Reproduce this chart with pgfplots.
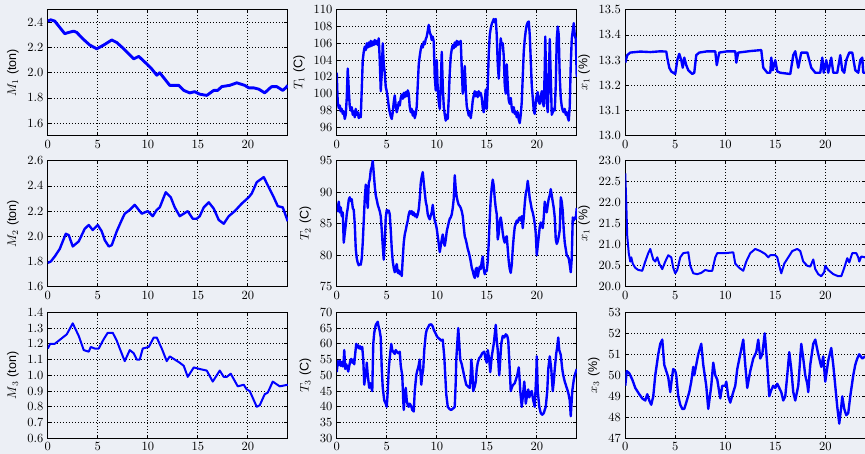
\documentclass[border=0pt]{standalone}
\usepackage{fontspec}
\usepackage{pgfplots}
\pgfplotsset{compat=1.18}
\newfontfamily\lab{Liberation Sans}
\definecolor{bgc}{RGB}{236,239,245}
\pgfplotsset{panel/.style={
  scale only axis, width=192pt, height=100.8pt, anchor=south west,
  xmin=0, xmax=24, xtick={0,5,10,15,20},
  grid=major, major grid style={black, dotted, line width=0.6pt},
  axis line style={black, line width=0.7pt},
  tick align=inside, major tick length=3pt, tick style={black, line width=0.6pt},
  every axis plot/.append style={blue, line width=1.6pt, no markers, line join=round},
  y tick label style={/pgf/number format/.cd, fixed, fixed zerofill, precision=1},
  clip=true,
}}
\begin{document}
\begin{tikzpicture}
\useasboundingbox (0,0) rectangle (692pt,363.2pt);
\clip (0,0) rectangle (692pt,363.2pt);
\fill[bgc] (0,0) rectangle (692pt,363.2pt);

% ---------------- Row 1 ----------------
\begin{axis}[panel, at={(38.2pt,254.6pt)}, ymin=1.5, ymax=2.5, ytick={1.6,1.8,...,2.41},
  ylabel={$M_1$ {\lab (ton)}}]
\addplot[line width=2.3pt] coordinates {
(0,2.41)(0.3,2.42)(0.7,2.41)(1.2,2.36)(1.7,2.31)(2.1,2.32)(2.6,2.33)(2.9,2.32)(3.5,2.27)(4.2,2.22)(4.9,2.19)(5.6,2.22)(6.0,2.24)(6.4,2.26)(6.9,2.24)(7.6,2.19)(8.1,2.15)(8.6,2.11)(9.1,2.13)(9.9,2.07)(10.4,2.03)(10.9,1.98)(11.2,2.00)(11.7,1.95)(12.2,1.90)(12.7,1.90)(13.1,1.90)(13.6,1.86)(14.2,1.84)(14.7,1.85)(15.2,1.83)(15.9,1.82)(16.6,1.86)(17.0,1.86)(17.4,1.89)(18.2,1.90)(18.9,1.92)(19.3,1.91)(19.7,1.90)(20.1,1.88)(20.6,1.88)(21.1,1.87)(21.7,1.84)(22.1,1.87)(22.4,1.89)(22.9,1.89)(23.5,1.86)(23.8,1.88)(24,1.90)};
\end{axis}

\begin{axis}[panel, at={(269.4pt,254.6pt)}, ymin=95, ymax=110, ytick={96,98,...,110},
  y tick label style={/pgf/number format/.cd, precision=0},
  ylabel={$T_1$ {\lab (C)}}]
\addplot[line width=1.9pt] coordinates {
(0,102.5)(0.05,100.5)(0.1,99)(0.2,98.3)(0.3,98.6)(0.4,97.9)(0.5,98.2)(0.6,97.6)(0.7,97.9)(0.8,97.0)(0.9,97.5)(1.0,99.5)(1.1,103.0)(1.2,100.5)(1.3,98.5)(1.4,98.0)(1.5,98.4)(1.6,97.5)(1.7,97.9)(1.8,97.2)(1.9,98.2)(2.0,97.5)(2.1,97.8)(2.2,97.1)(2.3,97.4)(2.4,97.2)(2.5,100.5)(2.6,104.0)(2.7,105.0)(2.8,105.6)(2.9,105.2)(3.0,106.0)(3.1,105.5)(3.2,106.1)(3.3,105.6)(3.4,106.3)(3.5,105.7)(3.6,106.2)(3.7,105.8)(3.8,106.4)(3.9,105.9)(4.0,106.3)(4.1,105.8)(4.2,106.6)(4.3,104.0)(4.4,100.3)(4.5,102.5)(4.6,106.0)(4.7,103.5)(4.8,102.5)(4.9,100.8)(5.0,100.3)(5.1,99.5)(5.2,98.5)(5.3,97.8)(5.4,97.3)(5.5,97.0)(5.6,97.8)(5.7,99.0)(5.8,99.8)(5.9,98.5)(6.0,97.8)(6.1,98.3)(6.2,99.0)(6.3,98.6)(6.4,99.5)(6.5,99.9)(6.6,99.4)(6.7,100.1)(6.8,99.6)(6.9,100.2)(7.0,99.7)(7.1,100.4)(7.2,100.0)(7.3,98.4)(7.4,97.8)(7.5,98.2)(7.6,97.4)(7.7,97.9)(7.8,97.1)(7.9,97.6)(8.0,98.5)(8.1,101.0)(8.2,103.5)(8.3,104.5)(8.4,105.3)(8.5,105.8)(8.6,105.5)(8.7,106.2)(8.8,105.9)(8.9,106.5)(9.0,106.8)(9.1,107.5)(9.2,108.2)(9.3,107.3)(9.4,107.0)(9.5,106.4)(9.6,106.8)(9.7,106.2)(9.8,102.0)(9.9,100.4)(10.0,104.0)(10.1,100.5)(10.2,99.0)(10.3,98.2)(10.4,101.0)(10.5,105.0)(10.6,101.0)(10.7,98.5)(10.8,97.5)(10.9,96.8)(11.0,97.5)(11.1,97.0)(11.2,99.5)(11.3,102.5)(11.4,104.5)(11.5,105.3)(11.6,105.8)(11.7,105.4)(11.8,106.1)(11.9,105.6)(12.0,106.3)(12.1,105.8)(12.2,106.2)(12.3,105.9)(12.4,106.3)(12.5,103.0)(12.6,100.0)(12.7,101.0)(12.8,103.3)(12.9,100.5)(13.0,98.5)(13.1,98.0)(13.2,97.4)(13.3,97.8)(13.4,97.1)(13.5,98.0)(13.6,99.2)(13.7,99.8)(13.8,100.3)(13.9,99.7)(14.0,100.2)(14.1,99.6)(14.2,100.3)(14.3,99.8)(14.4,100.1)(14.5,99.5)(14.6,98.3)(14.7,97.8)(14.8,99.0)(14.9,100.5)(15.0,98.2)(15.1,101.0)(15.2,104.8)(15.3,107.0)(15.4,107.8)(15.5,108.3)(15.6,108.6)(15.7,108.9)(15.8,108.5)(15.9,108.9)(16.0,107.0)(16.1,103.5)(16.2,101.8)(16.3,104.5)(16.4,106.6)(16.5,105.8)(16.6,106.0)(16.7,104.5)(16.8,101.0)(16.9,100.0)(17.0,103.5)(17.1,101.0)(17.2,99.2)(17.3,98.8)(17.4,99.5)(17.5,98.3)(17.6,97.8)(17.7,98.4)(17.8,97.6)(17.9,97.9)(18.0,97.2)(18.1,97.8)(18.2,96.9)(18.3,96.5)(18.4,97.5)(18.5,99.0)(18.6,102.0)(18.7,105.0)(18.8,106.5)(18.9,107.5)(19.0,108.2)(19.1,108.5)(19.2,108.6)(19.3,107.0)(19.4,104.0)(19.5,101.0)(19.6,99.5)(19.7,98.0)(19.8,97.6)(19.9,99.0)(20.0,99.8)(20.1,100.2)(20.2,99.0)(20.3,98.8)(20.4,99.6)(20.5,100.3)(20.6,99.0)(20.7,98.5)(20.8,103.0)(20.85,106.8)(20.9,104.0)(21.0,99.0)(21.1,97.8)(21.2,101.5)(21.3,106.5)(21.4,102.0)(21.5,97.5)(21.6,97.8)(21.7,98.2)(21.8,98.0)(21.9,101.0)(22.0,106.5)(22.1,108.0)(22.2,107.0)(22.3,102.0)(22.4,99.5)(22.5,98.5)(22.6,98.0)(22.7,97.8)(22.8,98.2)(22.9,97.5)(23.0,97.8)(23.1,97.2)(23.2,96.8)(23.3,98.5)(23.4,103.5)(23.5,106.5)(23.6,107.5)(23.7,108.4)(23.8,107.0)(23.9,106.5)(24.0,102.0)};
\end{axis}

\begin{axis}[panel, at={(500.2pt,254.6pt)}, ymin=13.0, ymax=13.5, ytick={13.0,13.1,...,13.51},
  ylabel={$x_1$ {\lab (\%)}}]
\addplot[line width=1.9pt] coordinates {
(0,13.29)(0.2,13.32)(0.5,13.33)(1.5,13.334)(2.5,13.332)(3.5,13.335)(4.1,13.334)(4.2,13.31)(4.4,13.27)(4.6,13.255)(5.0,13.245)(5.2,13.30)(5.4,13.325)(5.6,13.30)(5.75,13.27)(5.9,13.31)(6.1,13.28)(6.3,13.26)(6.7,13.245)(6.9,13.25)(7.1,13.32)(7.4,13.33)(8.2,13.335)(9.0,13.335)(9.15,13.28)(9.4,13.33)(10.2,13.335)(11.0,13.335)(11.1,13.29)(11.3,13.33)(12.5,13.336)(13.6,13.34)(13.8,13.27)(14.2,13.25)(14.5,13.25)(14.6,13.31)(14.75,13.26)(15.0,13.30)(15.2,13.255)(15.5,13.25)(16.5,13.245)(16.8,13.32)(17.0,13.335)(17.3,13.27)(17.6,13.33)(18.2,13.33)(18.6,13.27)(19.0,13.25)(19.5,13.25)(19.7,13.31)(19.85,13.25)(20.1,13.30)(20.3,13.25)(20.6,13.31)(20.8,13.25)(21.2,13.25)(21.5,13.32)(21.7,13.26)(21.9,13.25)(22.1,13.30)(22.4,13.33)(22.7,13.33)(23.0,13.26)(23.3,13.25)(23.5,13.30)(23.7,13.31)(23.8,13.25)(24,13.25)};
\end{axis}

% ---------------- Row 2 ----------------
\begin{axis}[panel, at={(38.2pt,133.8pt)}, ymin=1.6, ymax=2.6, ytick={1.6,1.8,...,2.61},
  ylabel={$M_2$ {\lab (ton)}}]
\addplot[line width=1.9pt] coordinates {
(0,1.79)(0.3,1.80)(0.7,1.84)(1.2,1.90)(1.8,2.02)(2.1,2.01)(2.5,1.92)(3.1,1.96)(3.4,2.01)(3.7,2.06)(4.1,2.09)(4.5,2.05)(5.0,2.09)(5.4,2.04)(5.7,1.97)(6.1,1.92)(6.4,1.93)(6.9,2.04)(7.4,2.13)(7.7,2.18)(8.2,2.21)(8.7,2.25)(9.1,2.21)(9.4,2.18)(10.0,2.20)(10.5,2.16)(10.9,2.21)(11.2,2.23)(11.8,2.35)(12.3,2.31)(12.7,2.23)(13.2,2.16)(13.6,2.18)(14.0,2.20)(14.5,2.14)(14.9,2.14)(15.2,2.16)(15.6,2.23)(16.1,2.27)(16.6,2.22)(17.1,2.13)(17.6,2.10)(18.1,2.16)(18.7,2.20)(19.4,2.26)(20.1,2.31)(20.4,2.34)(20.9,2.43)(21.6,2.47)(22.1,2.39)(22.6,2.31)(23.0,2.24)(23.5,2.23)(24,2.12)};
\end{axis}

\begin{axis}[panel, at={(269.4pt,133.8pt)}, ymin=75, ymax=95, ytick={75,80,...,95},
  y tick label style={/pgf/number format/.cd, precision=0},
  ylabel={$T_2$ {\lab (C)}}]
\addplot[line width=1.9pt] coordinates {
(0,88.2)(0.1,87.0)(0.2,88.5)(0.3,86.8)(0.4,87.6)(0.5,86.2)(0.6,86.8)(0.7,82.0)(0.8,83.5)(0.9,84.8)(1.0,86.5)(1.1,87.5)(1.2,88.8)(1.3,89.2)(1.4,88.6)(1.5,88.9)(1.6,87.5)(1.7,87.2)(1.8,85.0)(1.9,81.0)(2.0,79.5)(2.1,78.8)(2.2,78.4)(2.3,78.6)(2.4,78.5)(2.5,79.5)(2.6,82.0)(2.7,85.5)(2.8,89.0)(2.9,91.2)(3.0,89.5)(3.1,87.5)(3.2,91.5)(3.3,92.0)(3.4,93.5)(3.5,94.0)(3.6,95.0)(3.7,93.0)(3.8,91.0)(3.9,89.5)(4.0,88.8)(4.1,88.0)(4.2,87.5)(4.3,87.0)(4.4,86.2)(4.5,84.0)(4.6,81.5)(4.7,79.3)(4.8,82.0)(4.9,86.0)(5.0,87.2)(5.1,86.8)(5.2,87.1)(5.3,86.5)(5.4,84.0)(5.5,81.0)(5.6,79.0)(5.7,78.0)(5.8,77.3)(5.9,78.0)(6.0,78.6)(6.1,77.2)(6.2,77.6)(6.3,77.0)(6.4,77.4)(6.5,76.7)(6.6,79.5)(6.7,82.0)(6.8,83.3)(6.9,84.0)(7.0,84.8)(7.1,85.5)(7.2,86.5)(7.3,87.0)(7.4,86.6)(7.5,87.0)(7.6,86.4)(7.7,86.8)(7.8,86.2)(7.9,86.5)(8.0,86.0)(8.1,86.5)(8.2,87.3)(8.3,89.0)(8.4,91.5)(8.5,92.5)(8.6,93.2)(8.7,91.5)(8.8,90.0)(8.9,88.5)(9.0,87.8)(9.1,86.5)(9.2,86.0)(9.3,85.7)(9.4,86.3)(9.5,86.8)(9.6,88.0)(9.7,86.5)(9.8,85.5)(9.9,85.0)(10.0,84.2)(10.1,83.0)(10.2,81.8)(10.3,80.5)(10.4,81.5)(10.5,82.5)(10.6,83.3)(10.7,82.0)(10.8,81.5)(10.9,82.5)(11.0,83.8)(11.1,84.5)(11.2,85.2)(11.3,85.8)(11.4,86.0)(11.5,86.5)(11.6,87.5)(11.7,89.0)(11.8,92.7)(11.9,90.5)(12.0,89.2)(12.1,88.5)(12.2,88.0)(12.3,87.8)(12.4,87.5)(12.5,87.0)(12.6,86.2)(12.7,84.5)(12.8,83.0)(12.9,82.5)(13.0,81.8)(13.1,81.0)(13.2,80.5)(13.3,79.8)(13.4,79.0)(13.5,78.0)(13.6,77.5)(13.7,76.8)(13.8,76.4)(13.9,77.8)(14.0,78.0)(14.1,76.6)(14.2,77.5)(14.3,78.2)(14.4,77.8)(14.5,79.0)(14.6,79.8)(14.7,77.8)(14.8,77.0)(14.9,77.6)(15.0,77.5)(15.1,79.0)(15.2,82.0)(15.3,86.0)(15.4,89.0)(15.5,90.8)(15.6,92.0)(15.7,91.0)(15.8,89.0)(15.9,87.5)(16.0,86.5)(16.1,82.5)(16.2,83.5)(16.3,85.5)(16.4,86.0)(16.5,85.0)(16.6,83.5)(16.7,82.5)(16.8,82.0)(16.9,82.8)(17.0,83.0)(17.1,81.0)(17.2,79.0)(17.3,77.8)(17.4,77.2)(17.5,78.5)(17.6,81.0)(17.7,83.0)(17.8,84.5)(17.9,85.0)(18.0,85.5)(18.1,85.2)(18.2,85.8)(18.3,86.0)(18.4,85.5)(18.5,86.2)(18.6,84.3)(18.7,86.0)(18.8,88.2)(18.9,89.8)(19.0,90.5)(19.1,91.8)(19.2,90.5)(19.3,89.0)(19.4,88.2)(19.5,87.3)(19.6,86.8)(19.7,86.0)(19.8,85.0)(19.9,83.5)(20.0,80.0)(20.1,81.5)(20.2,83.0)(20.3,84.5)(20.4,85.2)(20.5,84.8)(20.6,84.3)(20.7,86.0)(20.8,88.5)(20.9,87.5)(21.0,86.8)(21.1,88.0)(21.2,89.0)(21.3,89.5)(21.4,90.5)(21.5,89.5)(21.6,88.5)(21.7,87.5)(21.8,86.0)(21.9,82.5)(22.0,81.8)(22.1,82.2)(22.2,83.0)(22.3,84.0)(22.4,89.2)(22.5,88.5)(22.6,87.0)(22.7,84.0)(22.8,82.0)(22.9,81.0)(23.0,80.0)(23.1,79.8)(23.2,79.5)(23.3,78.5)(23.4,77.3)(23.5,79.5)(23.6,86.0)(23.7,85.5)(23.8,86.0)(23.9,85.8)(24.0,87.5)};
\end{axis}

\begin{axis}[panel, at={(500.2pt,133.8pt)}, ymin=20, ymax=23, ytick={20,20.5,...,23.01},
  ylabel={$x_1$ {\lab (\%)}}]
\addplot coordinates {
(0,22.7)(0.1,22.0)(0.2,21.2)(0.35,20.8)(0.5,20.6)(0.6,20.7)(0.75,20.55)(1.0,20.45)(1.3,20.4)(1.7,20.38)(2.0,20.6)(2.3,20.8)(2.5,20.9)(2.8,20.65)(3.0,20.6)(3.2,20.7)(3.4,20.55)(3.7,20.42)(4.0,20.6)(4.3,20.75)(4.6,20.7)(4.8,20.45)(5.0,20.32)(5.2,20.4)(5.5,20.7)(5.8,20.8)(6.3,20.82)(6.5,20.5)(6.8,20.32)(7.2,20.3)(7.6,20.33)(8.0,20.4)(8.3,20.38)(8.7,20.38)(9.0,20.7)(9.2,20.8)(10.0,20.8)(10.8,20.82)(11.0,20.55)(11.4,20.45)(11.8,20.38)(12.1,20.6)(12.5,20.8)(13.0,20.9)(13.5,20.85)(14.0,20.78)(14.3,20.7)(14.5,20.75)(15.0,20.75)(15.2,20.7)(15.4,20.5)(15.6,20.32)(15.9,20.55)(16.3,20.7)(16.7,20.85)(17.2,20.9)(17.5,20.85)(17.8,20.6)(18.2,20.5)(18.5,20.48)(18.8,20.65)(19.0,20.42)(19.3,20.3)(19.6,20.25)(19.9,20.35)(20.0,20.5)(20.3,20.4)(20.8,20.3)(21.3,20.25)(21.6,20.25)(21.9,20.45)(22.2,20.68)(22.4,20.58)(22.7,20.8)(23.1,20.8)(23.3,20.7)(23.4,20.6)(23.6,20.72)(24,20.7)};
\end{axis}

% ---------------- Row 3 ----------------
\begin{axis}[panel, at={(38.2pt,12.56pt)}, ymin=0.6, ymax=1.4, ytick={0.6,0.7,...,1.41},
  ylabel={$M_3$ {\lab (ton)}}]
\addplot coordinates {
(0,1.17)(0.25,1.20)(0.7,1.20)(1.9,1.26)(2.5,1.33)(3.1,1.25)(3.6,1.16)(4.1,1.15)(4.3,1.18)(4.7,1.17)(5.1,1.17)(5.6,1.23)(6.0,1.27)(6.5,1.27)(6.9,1.22)(7.2,1.17)(7.7,1.09)(8.2,1.16)(8.6,1.14)(8.9,1.10)(9.2,1.10)(9.5,1.17)(10.1,1.18)(10.6,1.24)(10.9,1.24)(11.4,1.17)(11.9,1.09)(12.2,1.12)(12.7,1.10)(13.2,1.08)(13.6,1.06)(14.0,0.99)(14.6,1.05)(15.2,1.04)(15.9,1.03)(16.5,0.96)(17.2,1.03)(17.6,0.99)(17.9,0.99)(18.3,1.01)(19.0,0.93)(19.6,0.94)(19.9,0.91)(20.2,0.90)(20.9,0.80)(21.2,0.81)(21.7,0.88)(22.0,0.89)(22.5,0.96)(23.2,0.93)(24,0.94)};
\end{axis}

\begin{axis}[panel, at={(269.4pt,12.56pt)}, ymin=30, ymax=70, ytick={30,35,...,70},
  y tick label style={/pgf/number format/.cd, precision=0},
  ylabel={$T_3$ {\lab (C)}}]
\addplot[line width=1.9pt] coordinates {
(0,51.0)(0.1,54.5)(0.2,53.2)(0.3,54.6)(0.4,53.0)(0.5,54.2)(0.6,52.8)(0.7,55.0)(0.75,58.0)(0.85,52.0)(0.95,53.5)(1.05,52.5)(1.15,51.2)(1.25,53.0)(1.35,54.5)(1.45,55.2)(1.55,54.0)(1.65,55.0)(1.75,53.5)(1.85,57.0)(1.95,60.0)(2.05,58.8)(2.15,59.5)(2.25,58.5)(2.35,59.2)(2.45,58.3)(2.55,59.0)(2.65,55.0)(2.75,47.0)(2.85,49.5)(2.95,51.0)(3.0,54.0)(3.1,50.0)(3.25,46.0)(3.35,47.5)(3.45,46.2)(3.55,45.0)(3.65,60.0)(3.75,63.5)(3.9,66.0)(4.0,66.5)(4.1,67.0)(4.15,66.0)(4.3,64.0)(4.4,62.0)(4.5,52.0)(4.6,46.0)(4.75,42.0)(4.9,41.0)(5.0,40.0)(5.1,45.0)(5.2,52.0)(5.3,55.5)(5.45,60.0)(5.55,58.0)(5.7,57.2)(5.8,56.8)(5.9,58.0)(6.0,57.5)(6.15,57.0)(6.3,57.5)(6.4,53.0)(6.55,50.0)(6.65,42.0)(6.7,39.0)(6.8,43.0)(6.9,46.0)(7.0,42.0)(7.1,40.5)(7.2,40.0)(7.3,41.0)(7.45,40.2)(7.55,39.0)(7.7,38.5)(7.8,45.0)(7.95,50.0)(8.05,51.5)(8.15,52.5)(8.3,55.0)(8.45,47.0)(8.55,50.0)(8.65,52.0)(8.75,58.0)(8.9,63.0)(9.0,64.5)(9.1,65.0)(9.25,66.0)(9.45,66.2)(9.6,65.5)(9.7,64.5)(9.85,63.5)(10.0,62.5)(10.1,62.0)(10.3,61.5)(10.45,61.0)(10.6,61.3)(10.75,56.0)(10.85,50.0)(10.95,44.0)(11.1,40.0)(11.3,39.2)(11.45,39.0)(11.65,39.5)(11.8,40.0)(11.9,48.0)(11.95,55.0)(12.15,65.0)(12.25,60.0)(12.35,55.0)(12.5,53.5)(12.6,52.0)(12.8,49.0)(12.95,47.0)(13.1,46.5)(13.3,46.0)(13.4,50.0)(13.45,55.0)(13.55,52.0)(13.65,45.0)(13.8,46.5)(13.9,48.0)(14.0,52.0)(14.1,54.0)(14.25,55.5)(14.4,56.0)(14.55,57.0)(14.75,57.5)(14.9,55.0)(15.0,54.0)(15.1,58.0)(15.25,55.0)(15.35,51.0)(15.5,56.0)(15.7,60.0)(15.9,66.0)(16.0,61.0)(16.1,58.0)(16.2,52.0)(16.25,50.0)(16.35,55.0)(16.45,60.0)(16.6,62.5)(16.75,62.0)(16.9,63.0)(17.05,62.5)(17.15,61.0)(17.25,55.0)(17.4,45.0)(17.55,46.5)(17.65,47.0)(17.8,47.5)(17.9,48.5)(18.05,50.0)(18.2,52.5)(18.3,48.0)(18.35,45.0)(18.5,40.0)(18.6,43.0)(18.75,48.0)(18.85,44.0)(18.9,41.0)(19.05,44.0)(19.15,45.5)(19.25,43.0)(19.4,44.5)(19.5,45.0)(19.65,42.0)(19.8,40.0)(19.95,50.0)(20.0,56.0)(20.1,45.0)(20.25,40.0)(20.4,38.0)(20.55,37.5)(20.7,38.0)(20.9,40.0)(21.05,45.0)(21.15,52.0)(21.3,56.0)(21.45,52.0)(21.6,45.0)(21.7,48.0)(21.8,52.0)(21.95,57.0)(22.05,59.0)(22.15,62.0)(22.25,58.0)(22.4,56.5)(22.55,52.0)(22.65,50.0)(22.8,48.0)(22.9,47.0)(23.05,45.5)(23.15,44.5)(23.3,42.0)(23.4,37.0)(23.55,45.0)(23.7,48.5)(23.8,50.0)(23.9,51.0)(24.0,52.0)};
\end{axis}

\begin{axis}[panel, at={(500.2pt,12.56pt)}, ymin=47, ymax=53, ytick={47,48,...,53},
  y tick label style={/pgf/number format/.cd, precision=0},
  ylabel={$x_3$ {\lab (\%)}}]
\addplot[line width=1.9pt] coordinates {
(0,49.5)(0.15,50.2)(0.4,50.1)(0.7,49.8)(1.0,49.4)(1.4,49.1)(1.7,48.9)(2.0,48.8)(2.2,49.1)(2.4,48.8)(2.6,48.6)(2.8,49.0)(3.0,50.0)(3.3,51.0)(3.5,51.5)(3.7,51.7)(3.9,50.5)(4.1,50.2)(4.3,49.9)(4.5,49.2)(4.7,50.0)(4.8,50.3)(5.0,50.2)(5.1,50.0)(5.3,49.0)(5.5,48.6)(5.7,48.4)(5.9,48.4)(6.1,48.7)(6.4,49.2)(6.6,49.7)(6.8,50.4)(6.9,50.0)(7.1,50.5)(7.3,51.0)(7.6,51.5)(7.8,50.5)(8.1,49.5)(8.3,48.4)(8.6,49.5)(8.8,50.6)(9.0,50.0)(9.2,49.8)(9.5,48.9)(9.7,49.5)(10.0,49.5)(10.1,49.7)(10.3,49.0)(10.5,48.7)(10.8,49.2)(11.0,49.5)(11.2,50.3)(11.5,51.0)(11.8,51.7)(12.0,50.5)(12.2,49.4)(12.5,50.2)(12.8,50.8)(13.1,51.1)(13.3,51.7)(13.5,50.8)(13.7,51.0)(13.95,52.0)(14.2,50.5)(14.4,49.0)(14.6,49.3)(14.8,49.5)(15.0,49.4)(15.2,49.6)(15.4,49.4)(15.6,49.2)(15.8,48.8)(16.0,49.0)(16.2,50.0)(16.4,51.1)(16.6,50.3)(16.8,49.2)(17.0,48.8)(17.3,49.5)(17.6,51.5)(17.8,50.8)(18.0,50.0)(18.2,49.6)(18.3,49.2)(18.5,50.5)(18.8,51.5)(19.0,51.7)(19.3,51.0)(19.6,50.4)(19.8,50.9)(20.0,49.7)(20.3,50.7)(20.6,51.3)(20.8,50.5)(21.0,49.5)(21.2,48.5)(21.4,47.7)(21.6,48.5)(21.7,49.0)(21.9,48.4)(22.1,48.1)(22.3,48.2)(22.5,49.0)(22.8,50.0)(23.0,50.5)(23.2,50.8)(23.4,51.0)(23.7,50.8)(24,50.9)};
\end{axis}
\end{tikzpicture}
\end{document}
